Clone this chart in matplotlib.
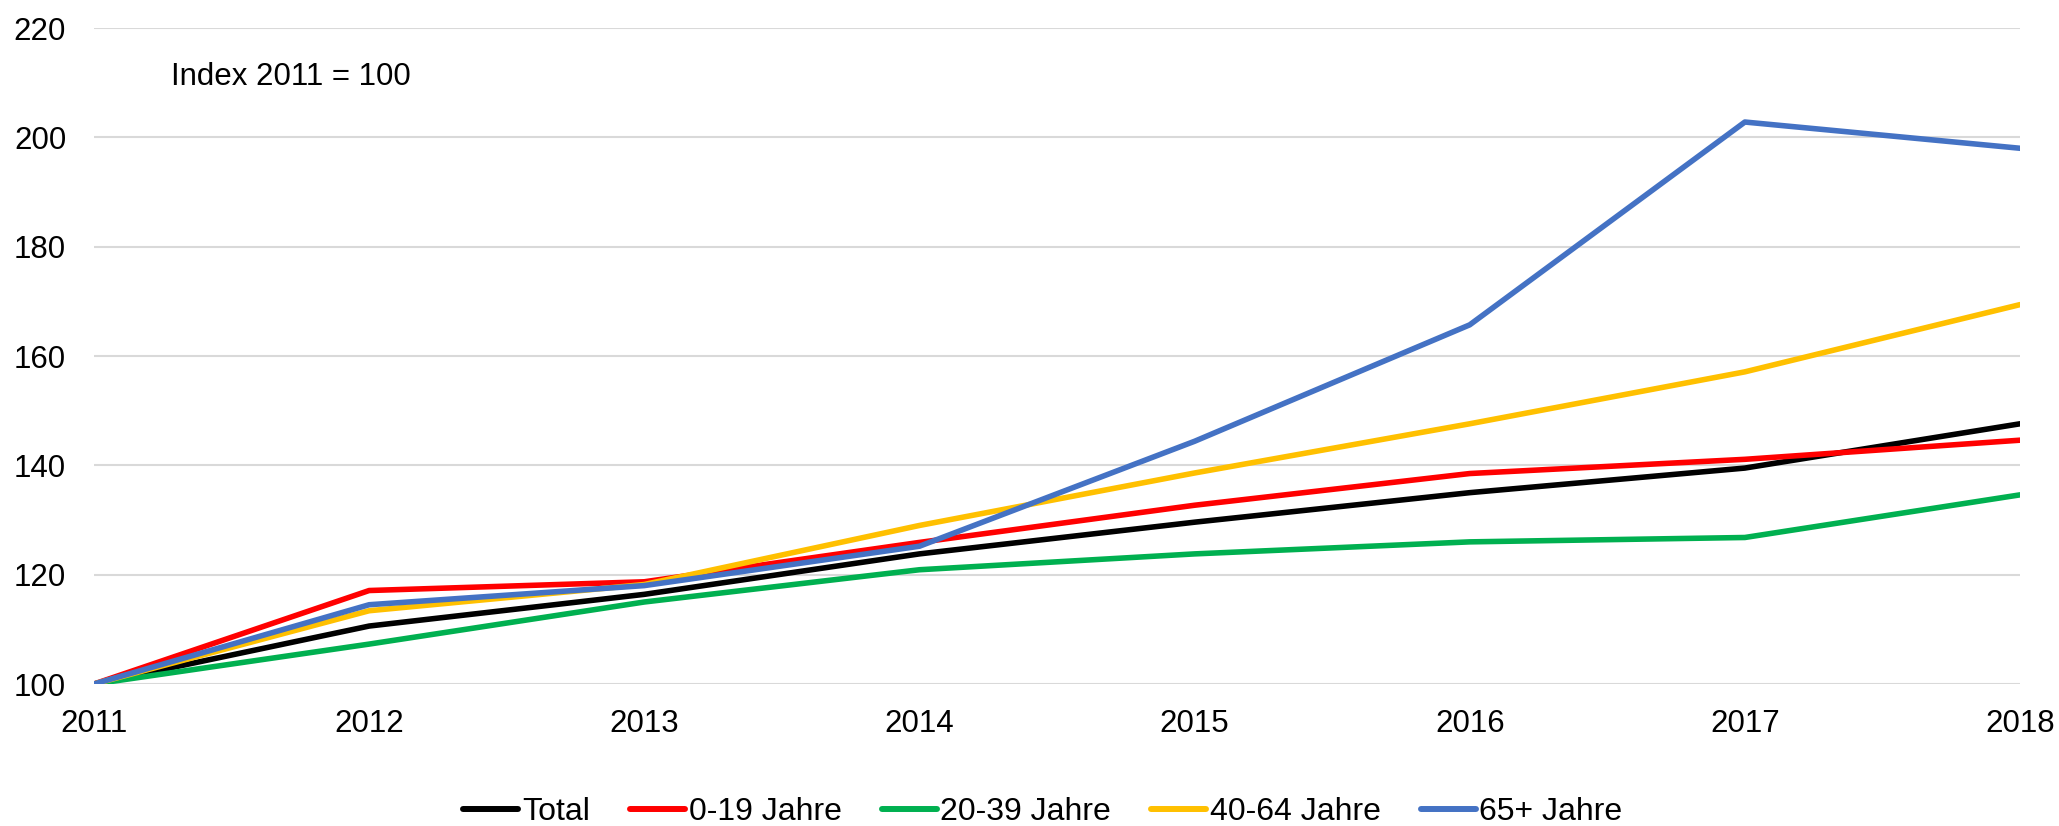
import matplotlib.pyplot as plt

plt.rcParams['font.family'] = ['Liberation Sans', 'DejaVu Sans']

years = [2011, 2012, 2013, 2014, 2015, 2016, 2017, 2018]
total = [100, 110.6, 116.4, 123.8, 129.6, 135.0, 139.5, 147.6]
age_0_19 = [100, 117.1, 118.7, 125.9, 132.7, 138.5, 141.1, 144.6]
age_20_39 = [100, 107.3, 115.0, 120.9, 123.8, 126.0, 126.8, 134.6]
age_40_64 = [100, 113.4, 118.2, 129.0, 138.6, 147.6, 157.1, 169.4]
age_65 = [100, 114.5, 118.0, 125.2, 144.4, 165.7, 202.8, 198.0]

labels = ['Total', '0-19 Jahre', '20-39 Jahre', '40-64 Jahre', '65+ Jahre']
colors = ['#000000', '#FF0000', '#00B050', '#FFC000', '#4472C4']
series = [total, age_0_19, age_20_39, age_40_64, age_65]

fig = plt.figure(figsize=(20.59, 8.26), dpi=100)
ax = fig.add_axes([94 / 2059, 1 - 684 / 826, (2020 - 94) / 2059, (684 - 28) / 826])

for vals, lab, col in zip(series, labels, colors):
    ax.plot(years, vals, color=col, lw=4.0, label=lab, solid_capstyle='round')

ax.set_xlim(2011, 2018)
ax.set_ylim(100, 220)
ax.set_yticks(range(100, 221, 20))
ax.set_xticks(years)
ax.grid(axis='y', color='#D9D9D9', lw=1.5)
ax.set_axisbelow(True)
for s in ax.spines.values():
    s.set_visible(False)
ax.tick_params(length=0, labelsize=22.5)
ax.tick_params(axis='y', pad=20)
ax.tick_params(axis='x', pad=18)

ax.text(2011.28, 211, 'Index 2011 = 100', fontsize=22.5, va='center', ha='left')

leg = fig.legend(loc='center', bbox_to_anchor=(1043 / 2059, 1 - 812 / 826), ncol=5,
                 frameon=False, fontsize=23, handlelength=1.72, handletextpad=0.12,
                 columnspacing=1.25)
for h in leg.get_lines():
    h.set_linewidth(4.3)

fig.savefig('out.png', dpi=100)
